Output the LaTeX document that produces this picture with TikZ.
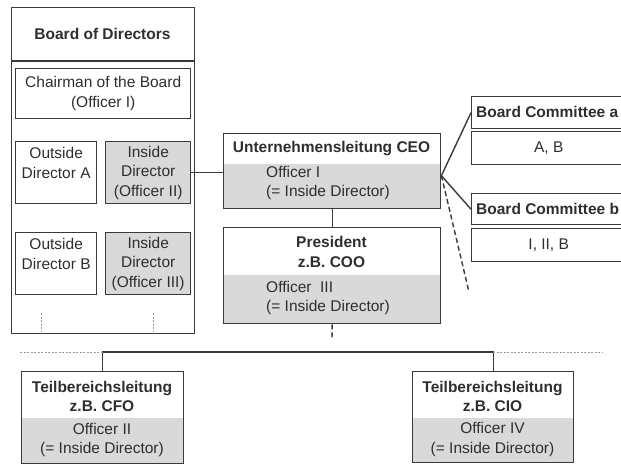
\documentclass[tikz,border=0pt]{standalone}
\usepackage{fontspec}
\setmainfont{Liberation Sans}
\usetikzlibrary{positioning}
\definecolor{linegray}{HTML}{3A3A3A}
\definecolor{boxgray}{HTML}{D9D9D9}
\definecolor{textgray}{HTML}{2E2E2E}

\begin{document}
\begin{tikzpicture}[
    x=1pt, y=-1pt,
    box/.style={draw=linegray, line width=1.4pt, inner sep=0pt, anchor=north west},
    greybox/.style={box, fill=boxgray},
    twobox/.style={box, path picture={\fill[boxgray] (path picture bounding box.south west) rectangle ([yshift=#1]path picture bounding box.south east);}},
    txt/.style={text=textgray, font=\fontsize{15.5}{19.5}\selectfont, align=center, inner sep=0pt},
    title/.style={txt, font=\fontsize{15.5}{19.5}\selectfont\bfseries},
    link/.style={draw=linegray, line width=1.4pt},
    dashline/.style={link, dash pattern=on 5pt off 3pt},
    dotline/.style={draw=gray!80, line width=1pt, dash pattern=on 2pt off 1.5pt},
  ]
  \useasboundingbox (0,0) rectangle (621,465);

  % Board of Directors
  \node[box, minimum width=183, minimum height=326] (board) at (11,7) {};
  \coordinate (hdr) at (0,61);
  \draw[link] (board.west |- hdr) -- (board.east |- hdr);
  \node[title] (board-title) at (102.5,34) {Board of Directors};

  \node[box, txt, minimum width=175, minimum height=50] (chair) at (15,68) {Chairman of the Board\\(Officer I)};
  \node[box, txt, minimum width=81, minimum height=62] (outA) at (15,141) {Outside\\Director A\\\mbox{}};
  \node[greybox, txt, minimum width=85, minimum height=62] (inII) at (105,141) {Inside\\Director\\(Officer II)};
  \node[box, txt, minimum width=81, minimum height=62] (outB) at (15,232) {Outside\\Director B\\\mbox{}};
  \node[greybox, txt, minimum width=85, minimum height=62] (inIII) at (105,232) {Inside\\Director\\(Officer III)};

  \foreach \x in {41,153}
    \draw[dotline] (\x,313) -- (\x,332);

  % CEO and President
  \node[twobox=45, minimum width=217, minimum height=75] (ceo) at (223,133) {};
  \node[title] (ceo-title) at (331.5,149) {Unternehmensleitung CEO};
  \node[txt, align=left, anchor=west] (ceo-body) at (266,183) {Officer I\\(= Inside Director)};

  \node[twobox=49, minimum width=217, minimum height=96] (pres) at (223,227) {};
  \node[title] (pres-title) at (331.5,252) {President\\z.B. COO};
  \node[txt, align=left, anchor=west] (pres-body) at (266,298) {Officer\ \ III\\(= Inside Director)};

  % Board committees
  \node[box, minimum width=154, minimum height=32] (coma) at (471,96) {};
  \node[title, anchor=west] (coma-title) at (476,112) {Board Committee a};
  \node[box, txt, minimum width=154, minimum height=33] (coma-body) at (471,131) {A, B};

  \node[box, minimum width=154, minimum height=31] (comb) at (471,193) {};
  \node[title, anchor=west] (comb-title) at (476,209) {Board Committee b};
  \node[box, txt, minimum width=154, minimum height=33] (comb-body) at (471,228) {I, II, B};

  % Teilbereiche
  \node[twobox=46, minimum width=162, minimum height=92] (cfo) at (21,371) {};
  \node[title] (cfo-title) at (102,396.5) {Teilbereichsleitung\\z.B. CFO};
  \node[txt] (cfo-body) at (102,440) {Officer II\\(= Inside Director)};

  \node[twobox=45, minimum width=161, minimum height=91] (cio) at (412,371) {};
  \node[title] (cio-title) at (492.5,396.5) {Teilbereichsleitung\\z.B. CIO};
  \node[txt] (cio-body) at (492.5,439.5) {Officer IV\\(= Inside Director)};

  % connectors
  \draw[link] (inII.east) -- (inII.east -| ceo.west);
  \draw[link] (ceo.south) -- (pres.north);

  \coordinate (hub) at ([yshift=-4.5]ceo.east);
  \coordinate (hubend) at (469,292);
  \draw[link] (hub) -- (coma.west);
  \draw[link] (hub) -- (comb.west);
  \draw[dashline] (hub) -- (hubend);

  \coordinate (presend) at (332,340);
  \draw[dashline] (pres.south) -- (presend);

  \coordinate (bus) at (0,352);
  \coordinate (busW) at (20,352);
  \coordinate (busE) at (603,352);
  \draw[link] (cfo.north) -- (cfo.north |- bus) -- (cio.north |- bus) -- (cio.north);
  \draw[dotline] (busW) -- (cfo.north |- bus);
  \draw[dotline] (cio.north |- bus) -- (busE);
\end{tikzpicture}
\end{document}
